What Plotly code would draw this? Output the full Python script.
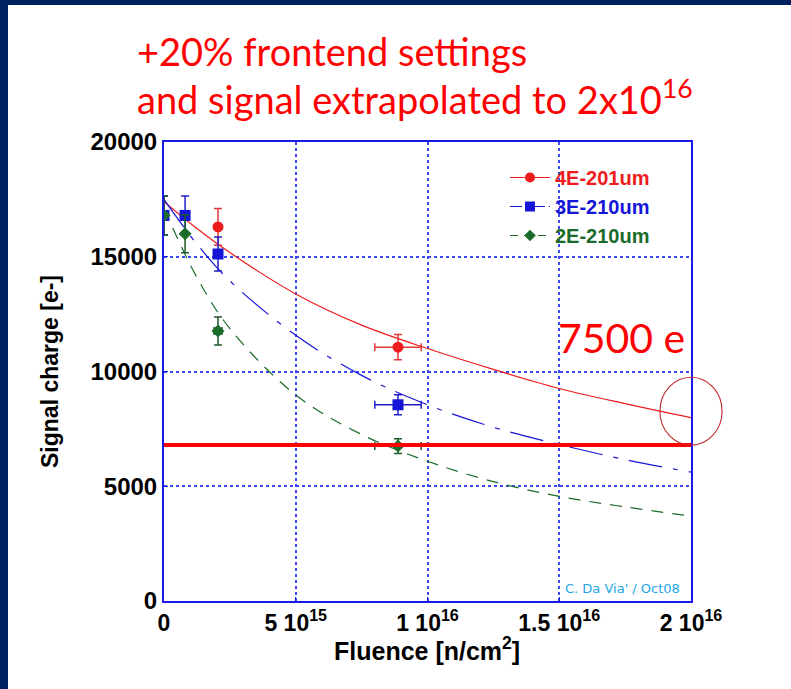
import plotly.graph_objects as go

# ---------------- data ----------------
FLUENCE_TICKS = [0, 5e15, 1e16, 1.5e16, 2e16]
FLUENCE_TICK_TEXT = ["0", "5 10<sup>15</sup>", "1 10<sup>16</sup>", "1.5 10<sup>16</sup>", "2 10<sup>16</sup>"]
CHARGE_TICKS = [0, 5000, 10000, 15000, 20000]

SERIES_NAMES = ["4E-201um", "3E-210um", "2E-210um"]

# measured points
red_x = [2.05e15, 8.88e15]
red_y = [16300, 11060]
red_yerr = [800, 550]
red_xerr = [0, 0.88e15]

blue_x = [0, 0.8e15, 2.05e15, 8.88e15]
blue_y = [16800, 16800, 15120, 8550]
blue_yerr = [850, 850, 740, 435]
blue_xerr = [0, 0, 0, 0.88e15]

green_x = [0, 0.8e15, 2.05e15, 8.88e15]
green_y = [16800, 16000, 11765, 6750]
green_yerr = [850, 830, 610, 320]
green_xerr = [0, 0, 0.15e15, 0.88e15]

# fitted curves
curve_x = [0, 1.25e15, 2.5e15, 5e15, 7.5e15, 1e16, 1.25e16, 1.5e16, 1.75e16, 2e16]
red_curve = [17400, 16230, 15180, 13380, 12020, 11000, 10090, 9260, 8600, 7990]
blue_curve = [17500, 15550, 13950, 11580, 9830, 8550, 7570, 6820, 6160, 5616]
green_curve = [17100, 14100, 11870, 8980, 7255, 6090, 5200, 4560, 4100, 3700]

THRESHOLD = 6800
X_RANGE = [0, 2e16]
Y_RANGE = [0, 20000]
CIRCLE_CENTER = (2.0e16, 8270)
CIRCLE_RADII = (1.18e15, 1480)

# ---------------- layout helpers ----------------
W, H = 791, 689
L, R, T, B = 164, 100, 142, 88
PW, PH = W - L - R, H - T - B


def px_x(p):
    return (p - L) / PW


def px_y(p):
    return (H - B - p) / PH


RED = "#ee1c1c"
BLUE = "#1515d8"
GREEN = "#1b6b2a"
AXBLUE = "#1a1ae6"
GRIDBLUE = "#3c48f4"
AX_FAMILY = "Liberation Sans, Arial, sans-serif"

fig = go.Figure()

# curves
fig.add_trace(go.Scatter(x=curve_x, y=red_curve, mode="lines", line=dict(color=RED, width=1.2, shape="spline"),
                         showlegend=False, hoverinfo="skip"))
fig.add_trace(go.Scatter(x=curve_x, y=blue_curve, mode="lines",
                         line=dict(color=BLUE, width=1.2, shape="spline", dash="34px,11px,5px,11px"),
                         showlegend=False, hoverinfo="skip"))
fig.add_trace(go.Scatter(x=curve_x, y=green_curve, mode="lines",
                         line=dict(color=GREEN, width=1.2, shape="spline", dash="12px,9px"),
                         showlegend=False, hoverinfo="skip"))


def points(x, y, ex, ey, color, ecolor, symbol, size):
    return go.Scatter(
        x=x, y=y, mode="markers",
        marker=dict(color=color, symbol=symbol, size=size, line=dict(width=0)),
        error_y=dict(type="data", array=ey, visible=True, color=ecolor, thickness=1.5, width=4),
        error_x=dict(type="data", array=ex, visible=True, color=ecolor, thickness=1.5, width=4),
        showlegend=False,
    )


fig.add_trace(points(red_x, red_y, red_xerr, red_yerr, RED, "#e23a3a", "circle", 11))
fig.add_trace(points(blue_x, blue_y, blue_xerr, blue_yerr, BLUE, "#2020c8", "square", 11))
fig.add_trace(points(green_x, green_y, green_xerr, green_yerr, GREEN, "#1e5a24", "diamond", 10))

# legend-only entries
legend_specs = [
    (SERIES_NAMES[0], RED, "circle", "solid", 10),
    (SERIES_NAMES[1], BLUE, "square", "12px,4px,3px,4px", 10),
    (SERIES_NAMES[2], GREEN, "diamond", "8px,6px", 9),
]
for name, col, sym, dash, sz in legend_specs:
    fig.add_trace(go.Scatter(
        x=[None], y=[None], mode="lines+markers",
        name=f"<b><span style='color:{col}'>{name}</span></b>",
        line=dict(color=col, width=1.2, dash=dash),
        marker=dict(color=col, symbol=sym, size=sz),
    ))

axis_font = dict(family=AX_FAMILY, size=23, color="black", weight="bold")

fig.update_xaxes(
    range=X_RANGE, tickvals=FLUENCE_TICKS, ticktext=FLUENCE_TICK_TEXT,
    showgrid=True, gridcolor=GRIDBLUE, griddash="dot", gridwidth=1.5,
    showline=True, linecolor=AXBLUE, linewidth=2, mirror=True,
    ticks="inside", ticklen=4, tickcolor=AXBLUE, zeroline=False,
    tickfont=axis_font,
)
fig.update_yaxes(
    range=Y_RANGE, tickvals=CHARGE_TICKS, ticktext=[str(v) for v in CHARGE_TICKS],
    showgrid=True, gridcolor=GRIDBLUE, griddash="dot", gridwidth=1.5,
    showline=True, linecolor=AXBLUE, linewidth=2, mirror=True,
    ticks="inside", ticklen=4, tickcolor=AXBLUE, zeroline=False,
    tickfont=dict(family=AX_FAMILY, size=24, color="black", weight="bold"),
    title=dict(text="Signal charge [e-]",
               font=dict(family=AX_FAMILY, size=23, color="black", weight="bold"),
               standoff=25),
)

shapes = [
    # threshold line
    dict(type="line", xref="x", yref="y", x0=X_RANGE[0], x1=X_RANGE[1], y0=THRESHOLD, y1=THRESHOLD,
         line=dict(color="#ff0000", width=4), layer="above"),
    # circle at extrapolation point
    dict(type="circle", xref="x domain", yref="y domain",
         x0=(CIRCLE_CENTER[0] - CIRCLE_RADII[0] - X_RANGE[0]) / (X_RANGE[1] - X_RANGE[0]),
         x1=(CIRCLE_CENTER[0] + CIRCLE_RADII[0] - X_RANGE[0]) / (X_RANGE[1] - X_RANGE[0]),
         y0=(CIRCLE_CENTER[1] - CIRCLE_RADII[1] - Y_RANGE[0]) / (Y_RANGE[1] - Y_RANGE[0]),
         y1=(CIRCLE_CENTER[1] + CIRCLE_RADII[1] - Y_RANGE[0]) / (Y_RANGE[1] - Y_RANGE[0]),
         line=dict(color="#c0282d", width=1.1), layer="above"),
    # slide frame (navy top and left strips)
    dict(type="rect", xref="paper", yref="paper", x0=px_x(0), x1=px_x(W), y0=px_y(5), y1=px_y(0),
         fillcolor="#00215f", line=dict(width=0)),
    dict(type="rect", xref="paper", yref="paper", x0=px_x(0), x1=px_x(8), y0=px_y(H), y1=px_y(0),
         fillcolor="#00215f", line=dict(width=0)),
]

title_font = dict(family="Lato, Open Sans, sans-serif", size=38, color="#ff0000")
annotations = [
    dict(text="+20% frontend settings", xref="paper", yref="paper", x=px_x(135), y=px_y(51),
         xanchor="left", yanchor="middle", showarrow=False, font=title_font),
    dict(text="and signal extrapolated to 2x10<sup>16</sup>", xref="paper", yref="paper",
         x=px_x(135), y=px_y(97), xanchor="left", yanchor="middle", showarrow=False, font=title_font),
    dict(text="7500 e", xref="paper", yref="paper", x=px_x(556), y=px_y(337),
         xanchor="left", yanchor="middle", showarrow=False,
         font=dict(family="Lato, Open Sans, sans-serif", size=41, color="#ff0000")),
    dict(text="C. Da Via' / Oct08", xref="paper", yref="paper", x=px_x(622), y=px_y(588),
         xanchor="center", yanchor="middle", showarrow=False,
         font=dict(family="DejaVu Sans, sans-serif", size=13, color="#22a5e6")),
    # x-axis title
    dict(text="<b>Fluence [n/cm<sup>2</sup>]</b>", xref="paper", yref="paper", x=px_x(427), y=px_y(649),
         xanchor="center", yanchor="middle", showarrow=False,
         font=dict(family=AX_FAMILY, size=25, color="black")),
]

fig.update_layout(
    width=W, height=H,
    margin=dict(l=L, r=R, t=T, b=B, pad=0),
    paper_bgcolor="white", plot_bgcolor="white",
    shapes=shapes, annotations=annotations,
    legend=dict(x=px_x(505), y=px_y(158), xanchor="left", yanchor="top",
                bgcolor="rgba(0,0,0,0)", font=dict(family=AX_FAMILY, size=20),
                itemwidth=40, tracegroupgap=0),
)

fig.write_html("out.html")
